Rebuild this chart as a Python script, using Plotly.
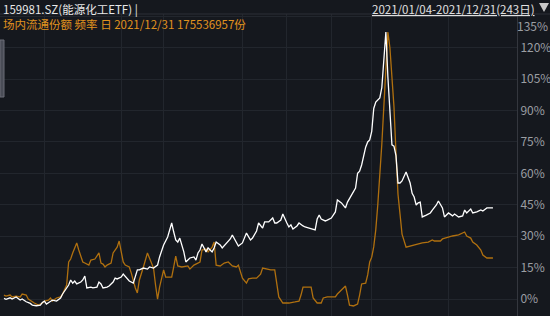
import plotly.graph_objects as go

# Day index (trading day of 2021, 0..242) and cumulative change (%) of 159981.SZ
price_days = [0,1,3,4,6,8,9,11,13,14,16,18,19,20,21,23,24,26,28,29,31,32,33,34,35,36,38,39,40,41,43,44,46,47,48,49,51,52,54,55,56,58,59,61,62,64,65,66,67,69,71,72,74,76,77,79,81,82,83,84,85,86,87,89,90,92,94,95,96,97,98,100,101,103,104,105,107,108,110,112,113,115,116,118,119,120,122,123,125,126,128,129,131,133,134,135,137,138,140,141,142,143,145,146,148,149,151,153,154,155,156,157,159,160,162,164,165,167,168,169,170,172,174,175,176,177,178,179,180,181,182,183,184,185,186,187,188,189,190,191,192,193,194,195,196,197,198,199,200,201,202,203,204,205,206,207,209,211,212,214,215,217,218,220,222,223,225,227,228,229,231,232,234,236,237,239,240,242]
price_pct = [0.3,-0.1,0.6,0.0,1.0,-0.5,0.0,-1.3,-2.1,-2.9,-3.2,-2.9,-1.6,-1.0,-2.4,-1.3,-0.5,-1.0,0.5,2.4,5.3,6.7,9.1,7.6,8.6,7.2,8.1,9.1,11.0,5.3,5.7,5.3,5.7,8.1,7.2,5.3,5.7,6.2,8.1,10.0,9.6,10.5,11.9,10.0,8.6,7.6,10.5,13.9,13.9,14.8,14.3,15.3,14.8,16.2,20.1,25.8,29.6,33.0,36.3,32.0,28.2,27.2,29.1,22.5,17.7,19.6,20.1,18.6,22.0,23.4,26.3,22.5,24.4,22.5,24.4,27.2,25.8,24.4,26.8,28.7,30.6,26.8,25.3,26.8,29.1,31.5,28.2,29.1,32.5,36.3,33.9,36.8,36.8,38.7,36.3,36.3,37.7,40.6,36.3,34.4,35.4,33.4,34.9,36.3,34.9,34.4,33.9,33.4,33.0,38.2,40.1,38.2,37.3,37.7,38.7,41.6,47.3,45.9,44.9,43.5,46.3,49.7,53.0,60.0,61.0,64.0,69.0,72.5,75.0,76.0,80.0,91.0,94.0,95.0,96.0,101.0,114.0,127.5,106.0,87.0,73.6,73.0,68.5,55.4,55.4,56.4,58.3,60.7,58.0,55.4,50.5,48.7,44.9,45.9,46.3,39.2,40.1,41.1,42.5,44.9,46.8,43.5,39.2,41.1,39.7,40.6,39.2,39.7,42.5,41.1,43.0,41.1,41.6,42.5,42.0,43.5,43.5,43.5]

# On-exchange circulating shares, shown on the chart's normalised (same) scale
share_days = [0,1,3,4,6,8,9,11,12,14,15,17,19,20,22,23,24,26,28,29,31,32,33,34,35,36,37,39,40,42,43,45,47,48,49,50,51,53,54,56,57,58,59,60,62,63,64,65,66,67,69,71,72,74,75,76,77,79,80,81,83,84,85,86,88,91,92,94,96,97,98,100,101,103,104,105,107,109,111,113,115,116,118,120,121,123,125,127,128,130,132,134,135,136,138,141,144,146,147,148,152,153,155,157,158,160,164,165,167,169,170,171,173,175,176,177,179,180,181,182,183,184,185,186,187,188,189,190,191,192,193,194,195,196,197,199,201,202,205,207,210,212,213,216,217,220,222,225,227,228,229,231,232,234,236,237,239,241,242]
share_scaled = [1.9,1.4,1.9,1.0,1.4,1.0,2.4,1.9,0.0,-1.4,-1.9,-2.9,-1.9,-1.0,-0.5,0.5,-1.0,0.5,1.0,2.4,6.7,17.7,19.1,22.0,24.4,26.8,23.4,17.7,17.2,16.2,18.6,19.1,22.0,17.2,16.7,15.3,16.2,17.2,22.0,24.8,27.7,23.4,17.7,16.2,15.3,12.4,8.1,5.3,2.9,9.1,15.3,22.0,19.6,14.8,6.7,0.0,5.7,13.9,10.5,10.5,10.5,15.3,20.5,15.8,15.3,15.8,14.3,16.2,17.2,17.7,23.4,23.9,22.5,24.8,27.2,16.2,15.8,17.2,17.7,15.8,15.3,16.2,10.0,7.6,9.6,10.0,10.0,11.9,14.8,14.3,13.9,13.9,6.7,1.0,-1.9,-1.9,-1.4,-1.0,1.9,5.7,5.7,0.5,-1.9,-1.9,0.5,1.0,1.0,2.4,4.3,6.2,1.9,-2.9,-3.3,-2.4,1.9,7.2,7.6,11.5,17.7,20.0,25.0,33.0,45.0,58.0,74.0,92.0,108.0,127.5,120.0,108.0,92.0,70.0,50.0,40.6,31.0,24.8,25.3,25.8,26.3,26.8,27.2,28.2,27.7,27.7,28.7,29.6,30.1,30.6,31.5,32.0,30.1,29.1,27.2,25.8,23.4,21.0,19.6,19.6,19.6]

y_ticks = [0, 15, 30, 45, 60, 75, 90, 105, 120, 135]
y_labels = ["0%", "15%", "30%", "45%", "60%", "75%", "90%", "105%", "120%", ""]
grid_days = [20, 58, 79, 118, 140, 162, 182, 220]

BG = "#15181e"
GRID = "#22262d"
FONT = "Noto Sans CJK SC, Noto Sans, sans-serif"
HF = 11.5
W, H, T = 517, 302, 14  # plot width/height, top margin (px)


def px(x, y):
    """pixel (from page top-left) -> paper coords"""
    return x / W, 1 - (y - T) / H


tri = [px(539, 3), px(549, 3), px(544, 12)]
tri_path = "M {} {} L {} {} L {} {} Z".format(*[c for p in tri for c in p])

fig = go.Figure()
fig.add_trace(go.Scatter(x=share_days, y=share_scaled, mode="lines",
                         line=dict(color="#b0700f", width=1.3), hoverinfo="skip"))
fig.add_trace(go.Scatter(x=price_days, y=price_pct, mode="lines",
                         line=dict(color="#ffffff", width=1.3), hoverinfo="skip"))

header = ('<span style="color:#e8e8e8">159981.SZ(能源化工ETF) |</span><br>'
          '<span style="color:#e0921e">场内流通份额 频率 日 2021/12/31 175536957份</span>')

fig.update_layout(
    width=550, height=316,
    margin=dict(l=0, r=33, t=T, b=0),
    paper_bgcolor=BG, plot_bgcolor=BG,
    showlegend=False,
    font=dict(family=FONT, size=12, color="#9b9ea3"),
    xaxis=dict(range=[-1.98, 253.9], tickvals=grid_days, showticklabels=False,
               showgrid=True, gridcolor=GRID, gridwidth=1, zeroline=False,
               showline=False, ticks=""),
    yaxis=dict(range=[-8.1, 136.1], side="right", tickvals=y_ticks, ticktext=y_labels,
               showgrid=True, gridcolor=GRID, gridwidth=1, zeroline=False,
               showline=True, linecolor="#34373e", linewidth=1, ticks="",
               tickfont=dict(size=12, color="#9b9ea3")),
    shapes=[
        dict(type="line", xref="paper", yref="paper", x0=0, x1=550/W, y0=1, y1=1,
             line=dict(color="#2c2f36", width=1)),
        dict(type="rect", xref="paper", yref="paper", x0=0, x1=4/W,
             y0=px(0, 40)[1], y1=px(0, 97)[1],
             fillcolor="#4a4d57", line=dict(color="#6a6d77", width=1)),
        dict(type="path", xref="paper", yref="paper", path=tri_path,
             fillcolor="#c8c8c8", line=dict(width=0)),
    ],
    annotations=[
        dict(text=header, xref="paper", yref="paper", align="left",
             x=px(2, 0)[0], y=px(0, 0)[1], xanchor="left", yanchor="top",
             showarrow=False, borderpad=0,
             font=dict(size=HF, family=FONT)),
        dict(text="<u>2021/01/04-2021/12/31(243日)</u>", xref="paper", yref="paper",
             x=px(536, 0)[0], y=px(0, 0)[1], xanchor="right", yanchor="top",
             showarrow=False, borderpad=0,
             font=dict(size=HF, color="#e0e0e0", family=FONT)),
        dict(text="135%", xref="paper", yref="paper",
             x=px(549, 0)[0], y=px(0, 25.5)[1], xanchor="right", yanchor="middle",
             showarrow=False, borderpad=0,
             font=dict(size=12, color="#9b9ea3", family=FONT)),
    ],
)

fig.write_html("out.html")
